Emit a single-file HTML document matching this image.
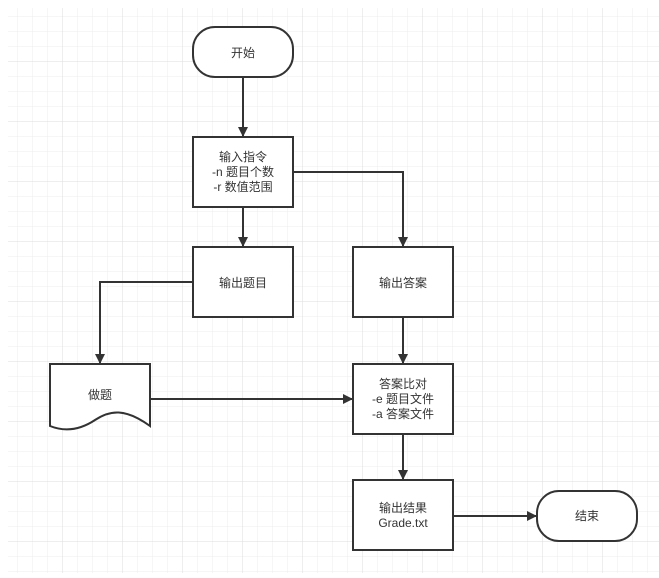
<!DOCTYPE html>
<html><head><meta charset="utf-8"><style>
body{margin:0;background:#fff}
</style></head><body>
<svg width="659" height="573" xmlns="http://www.w3.org/2000/svg" font-family="Liberation Sans, Noto Sans CJK SC, sans-serif" font-size="12">
<defs>
<pattern id="g" x="3" y="2" width="15" height="15" patternUnits="userSpaceOnUse"><path d="M15 0V15M0 15H15" stroke="#ececec" stroke-width="1" fill="none"/></pattern>
<pattern id="G" x="3" y="2" width="60" height="60" patternUnits="userSpaceOnUse"><path d="M60 0V60M0 60H60" stroke="#dcdcdc" stroke-width="1" fill="none"/></pattern>
<marker id="a" markerWidth="10" markerHeight="10" refX="9" refY="5" orient="auto" markerUnits="userSpaceOnUse"><path d="M0 0L10 5L0 10Z" fill="#333"/></marker>
</defs>
<rect x="8" y="8" width="651" height="565" fill="url(#g)"/>
<rect x="8" y="8" width="651" height="565" fill="url(#G)"/>
<g stroke="#333" stroke-width="2" fill="none">
<path d="M243 77V136" marker-end="url(#a)"/>
<path d="M243 207V246" marker-end="url(#a)"/>
<path d="M293 172H403V246" marker-end="url(#a)"/>
<path d="M193 282H100V363" marker-end="url(#a)"/>
<path d="M150 399H352" marker-end="url(#a)"/>
<path d="M403 317V363" marker-end="url(#a)"/>
<path d="M403 434V479" marker-end="url(#a)"/>
<path d="M453 516H536" marker-end="url(#a)"/>
</g>
<g stroke="#333" stroke-width="2" fill="#fff">
<rect x="193" y="27" width="100" height="50" rx="22"/>
<rect x="193" y="137" width="100" height="70"/>
<rect x="193" y="247" width="100" height="70"/>
<rect x="353" y="247" width="100" height="70"/>
<rect x="353" y="364" width="100" height="70"/>
<rect x="353" y="480" width="100" height="70"/>
<rect x="537" y="491" width="100" height="50" rx="22"/>
<path d="M50 364H150V426C125 408 110 410 95 420C80 430 65 432 50 426Z"/>
</g>
<g fill="#333" text-anchor="middle">
<text x="243" y="57">开始</text>
<text x="243" y="161">输入指令</text>
<text x="243" y="176">-n 题目个数</text>
<text x="243" y="191">-r 数值范围</text>
<text x="243" y="287">输出题目</text>
<text x="403" y="287">输出答案</text>
<text x="100" y="399">做题</text>
<text x="403" y="388">答案比对</text>
<text x="403" y="403">-e 题目文件</text>
<text x="403" y="418">-a 答案文件</text>
<text x="403" y="512">输出结果</text>
<text x="403" y="527">Grade.txt</text>
<text x="587" y="520">结束</text>
</g>
</svg>
</body></html>
